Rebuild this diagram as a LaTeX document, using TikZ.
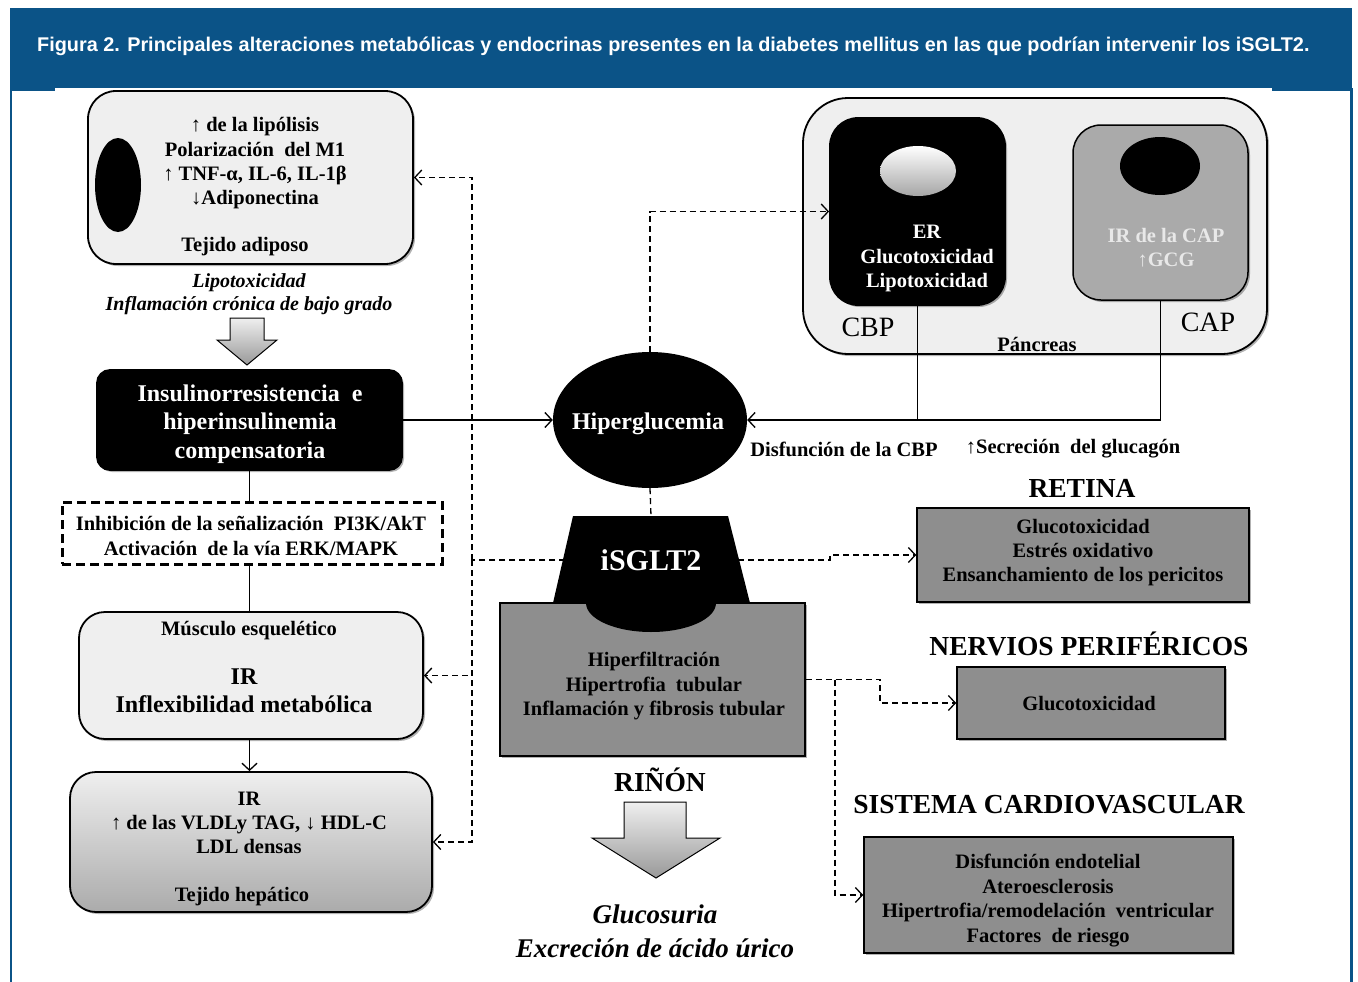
\documentclass[tikz,border=0pt]{standalone}
\usepackage{fontspec}
\setmainfont{Liberation Serif}
\newfontfamily\hdrfont{Liberation Sans}
\usetikzlibrary{shapes.geometric,arrows.meta,shadows}
\definecolor{hblue}{RGB}{11,83,135}
\definecolor{lgray}{RGB}{239,239,239}
\definecolor{mgray}{RGB}{142,142,142}
\definecolor{cgray}{RGB}{170,170,170}
\definecolor{ctext}{RGB}{232,232,232}
\newcommand{\fsz}[2]{\fontsize{#1}{#2}\selectfont}
\begin{document}
\begin{tikzpicture}[x=1pt,y=-1pt,
  shd/.style={drop shadow={shadow xshift=2pt,shadow yshift=-2pt,opacity=0.3,fill=black}},
  rbox/.style={draw=black, line width=1.8pt, rounded corners=#1, inner sep=0pt},
  rbox/.default=26pt,
  gbox/.style={draw=black, line width=1.5pt, fill=mgray, inner sep=0pt, shd},
  txt/.style={font=\bfseries\fsz{20.5}{24.3}, align=center, inner sep=0pt},
  bigtxt/.style={font=\bfseries\fsz{24}{28.5}, align=center, inner sep=0pt},
  head/.style={font=\bfseries\fsz{27.5}{30}, inner sep=0pt},
  sline/.style={line width=1.3pt},
  conn/.style={line width=1.3pt, -{Straight Barb[length=7pt,width=15pt]}},
  dline/.style={line width=1.3pt, dash pattern=on 6pt off 4pt},
  dconn/.style={dline, -{Straight Barb[length=7pt,width=15pt]}},
  blockarrow/.style={draw=black, line width=1pt, top color=lgray, bottom color=black!40}
]
\useasboundingbox (0,0) rectangle (1358,982);
\fill[white] (0,0) rectangle (1358,982);

% header and frame
\fill[hblue] (10,8) rectangle (1352,88);
\fill[hblue] (10,88) rectangle (55,91);
\fill[hblue] (1272,88) rectangle (1352,91);
\fill[hblue] (9.5,88) rectangle (12,982);
\fill[hblue] (1350,88) rectangle (1352.5,982);
\node[font=\hdrfont\bfseries\fsz{19.85}{21}, text=white, anchor=west, inner sep=0pt] (title) at (37,46)
  {Figura 2. Principales alteraciones metabólicas y endocrinas presentes en la diabetes mellitus en las que podrían intervenir los iSGLT2.};

% adipose tissue
\node[rbox=28pt, fill=lgray, shd, minimum width=325pt, minimum height=173pt] (adi) at (250.5,177.5) {};
\node[ellipse, fill=black, minimum width=46pt, minimum height=94pt, inner sep=0pt] (adiell) at (118,185) {};
\node[txt] (aditx) at (255,163.5) {↑ de la lipólisis\\Polarización~ del M1\\↑ TNF-α, IL-6, IL-1β\\↓Adiponectina};
\node[txt] (adilbl) at (245,246.5) {Tejido adiposo};
\node[txt, font=\bfseries\itshape\fsz{20}{23}] (lipo) at (249,294.5) {Lipotoxicidad\\Inflamación crónica de bajo grado};
\shadedraw[blockarrow] (230,318) -- (264,318) -- (264,340) -- (277,340) -- (247,365) -- (217,340) -- (230,340) -- cycle;

% insulin resistance
\node[rbox=13pt, fill=black, shd, minimum width=305pt, minimum height=100pt] (ins) at (249.5,420) {};
\node[bigtxt, text=white] (instx) at (250,424) {Insulinorresistencia~ e\\hiperinsulinemia\\compensatoria};

% dashed signalling box
\node[draw=black, line width=3pt, dash pattern=on 9pt off 5pt, minimum width=380pt, minimum height=62pt, inner sep=0pt] (dbox) at (252,533) {};
\node[txt] (dboxtx) at (251,536) {Inhibición de la señalización~ PI3K/AkT\\Activación~ de la vía ERK/MAPK};

% muscle
\node[rbox=26pt, fill=lgray, shd, minimum width=344pt, minimum height=127pt] (mus) at (251,675.5) {};
\node[txt] (muslbl) at (249,630.5) {Músculo esquelético};
\node[bigtxt, font=\bfseries\fsz{24}{28}] (mustx) at (244,691) {IR\\Inflexibilidad metabólica};

% liver
\node[rbox=26pt, top color=lgray, bottom color=black!33, shd, minimum width=362pt, minimum height=140pt] (hep) at (251,842) {};
\node[txt] (heptx) at (249,823) {IR\\↑ de las VLDLy TAG, ↓ HDL-C\\LDL densas};
\node[txt] (heplbl) at (242,897) {Tejido hepático};

% pancreas
\node[rbox=45pt, fill=lgray, shd, minimum width=464pt, minimum height=256pt] (panc) at (1035,226) {};
\node[rbox=28pt, fill=black, shd, minimum width=175pt, minimum height=187pt] (er) at (917.5,211.5) {};
\node[ellipse, top color=white, bottom color=black!35, minimum width=76pt, minimum height=50pt, inner sep=0pt] (erell) at (918,171) {};
\node[txt, text=white] (ertx) at (927,258.5) {ER\\Glucotoxicidad\\Lipotoxicidad};
\node[rbox=28pt, line width=1.5pt, fill=cgray, shd, minimum width=175pt, minimum height=175pt] (cap) at (1160.5,212.5) {};
\node[ellipse, fill=black, minimum width=80pt, minimum height=58pt, inner sep=0pt] (capell) at (1160,166) {};
\node[txt, text=ctext] (captx) at (1166,247.5) {IR de la CAP\\↑GCG};
\node[font=\fsz{28}{30}, inner sep=0pt] (cbplbl) at (868,327) {CBP};
\node[font=\fsz{28}{30}, inner sep=0pt] (caplbl) at (1208,322) {CAP};
\node[txt] (panclbl) at (1037,344) {Páncreas};

% hyperglycaemia
\node[ellipse, fill=black, minimum width=194pt, minimum height=136pt, inner sep=0pt] (hg) at (650,420) {};
\node[font=\bfseries\fsz{24}{28}, text=white, inner sep=0pt] (hgtx) at (648,424) {Hiperglucemia};
\node[txt] (lbldcbp) at (844,449) {Disfunción de la CBP};
\node[txt] (lblsglu) at (1073,449) {↑Secreción~ del glucagón};

% kidney
\node[gbox, minimum width=305pt, minimum height=153pt] (kid) at (652.5,679.5) {};
\node[txt] (kidtx) at (654,686) {Hiperfiltración\\Hipertrofia~ tubular\\Inflamación y fibrosis tubular};

% iSGLT2 shape
\fill[black] (573,516) -- (728,516) -- (750,603) -- (553,603) -- cycle;
\begin{scope}
  \clip (540,603) rectangle (760,650);
  \fill[black] (651,603) ellipse [x radius=65pt, y radius=29pt];
\end{scope}
\node[font=\bfseries\fsz{30}{32}, text=white, inner sep=0pt] (isg) at (651,560) {iSGLT2};
\coordinate (isgtop) at (651,516);
\coordinate (isgL) at (565,560);
\coordinate (isgR) at (738,560);

\node[head] (rinon) at (660,780) {RIÑÓN};
\shadedraw[blockarrow] (624,802) -- (686,802) -- (686,838) -- (720,838) -- (656,878) -- (592,838) -- (624,838) -- cycle;
\node[align=center, inner sep=0pt, font=\bfseries\itshape\fsz{27}{34}] (glucos) at (655,931) {Glucosuria\\Excreción de ácido úrico};

% right-side organs
\node[head] (retlbl) at (1082,488) {RETINA};
\node[gbox, minimum width=332pt, minimum height=94pt] (ret) at (1083,555) {};
\node[txt] (rettx) at (1083,552.5) {Glucotoxicidad\\Estrés oxidativo\\Ensanchamiento de los pericitos};
\node[head] (nervlbl) at (1089,644) {NERVIOS PERIFÉRICOS};
\node[gbox, minimum width=268pt, minimum height=72pt] (nerv) at (1091,703) {};
\node[txt] (nervtx) at (1089,704) {Glucotoxicidad};
\node[head] (cvlbl) at (1049,805) {SISTEMA CARDIOVASCULAR};
\node[gbox, minimum width=369pt, minimum height=116pt] (cv) at (1048.5,895) {};
\node[txt, font=\bfseries\fsz{20.5}{24.8}] (cvtx) at (1048,900.5) {Disfunción endotelial\\Ateroesclerosis\\Hipertrofia/remodelación~ ventricular\\Factores~ de riesgo};

% solid connectors
\draw[conn] (ins.east) -- (hg.west);
\draw[sline] (er.south) -- (er.south |- hg.east);
\draw[conn] (cap.south) |- (hg.east);
\draw[sline] (ins.south) -- (ins.south |- dbox.north);
\draw[sline] (dbox.south -| ins.south) -- (ins.south |- mus.north);
\draw[conn] (ins.south |- mus.south) -- (ins.south |- hep.north);

% dashed connectors
\draw[dconn] (hg.north) |- (er.west);
\draw[dline] (hg.south) -- (isgtop);
\coordinate (jl) at (472,560);
\draw[dline] (isgL) -- (jl);
\draw[dconn] (jl) |- (adi.east);
\draw[dconn] (jl) |- (mus.east);
\draw[dconn] (jl) |- (hep.east);
\coordinate (jr) at (830,560);
\draw[dconn] (isgR) -- (jr) |- (ret.west);
\coordinate (k2) at (880,679.5);
\coordinate (k3) at (835,679.5);
\draw[dconn] (kid.east) -- (k2) |- (nerv.west);
\draw[dconn] (k3) |- (cv.west);
\end{tikzpicture}
\end{document}
